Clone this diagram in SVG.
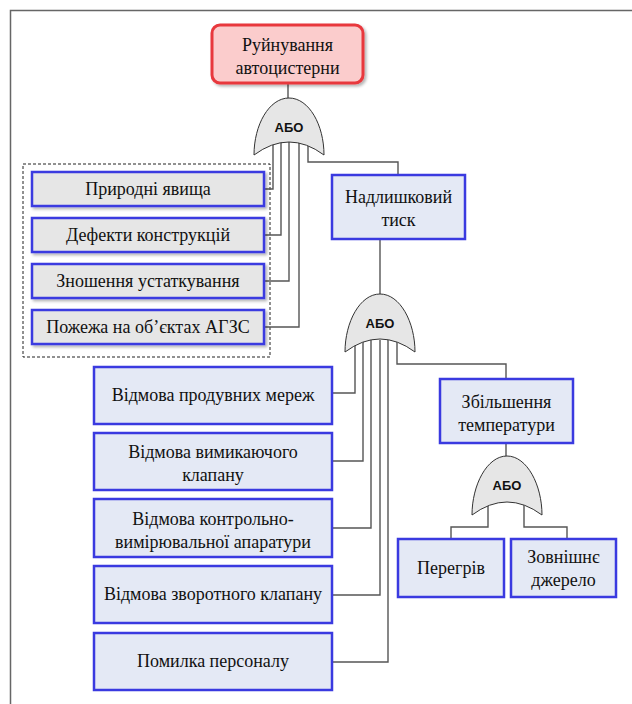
<svg xmlns="http://www.w3.org/2000/svg" width="632" height="704" viewBox="0 0 632 704">
<defs>
<filter id="sh" x="-10%" y="-10%" width="130%" height="140%">
<feGaussianBlur in="SourceAlpha" stdDeviation="1.5"/>
<feOffset dx="2" dy="2" result="b"/>
<feComponentTransfer><feFuncA type="linear" slope="0.3"/></feComponentTransfer>
<feMerge><feMergeNode/><feMergeNode in="SourceGraphic"/></feMerge>
</filter>
</defs>
<style>
text.t{font-family:"Times New Roman","Liberation Serif",Tinos,"DejaVu Serif",serif;font-size:18px;fill:#111;text-anchor:middle}
text.g{font-family:"Liberation Sans",Arial,sans-serif;font-size:13px;font-weight:bold;fill:#111;text-anchor:middle}
.bb{fill:#e4e9f5;stroke:#3a3ae0;stroke-width:2.5}
.gb{fill:#e6e6e6;stroke:#3a3ae0;stroke-width:2.5}
.gate{fill:#e6e6e6;stroke:#333;stroke-width:1}
.c{fill:none;stroke:#555;stroke-width:1.4}
</style>
<rect width="632" height="704" fill="#fff"/>
<path d="M10.5,704 V10.5 H632" fill="none" stroke="#666" stroke-width="1.5"/>
<rect x="23" y="164" width="247" height="193" fill="none" stroke="#222" stroke-width="1" stroke-dasharray="3,2"/>

<g id="connectors">
<path class="c" d="M288,83 V100"/>
<path class="c" d="M264,189 H273 V140"/>
<path class="c" d="M264,235 H281 V140"/>
<path class="c" d="M264,281 H289 V140"/>
<path class="c" d="M264,327 H299 V140"/>
<path class="c" d="M308,140 V162 H398 V175"/>
<path class="c" d="M380,239 V296"/>
<path class="c" d="M332,393 H355 V340"/>
<path class="c" d="M332,461 H363 V340"/>
<path class="c" d="M332,528 H371 V340"/>
<path class="c" d="M332,595 H380 V340"/>
<path class="c" d="M332,662 H388 V340"/>
<path class="c" d="M397,340 V364 H506 V379"/>
<path class="c" d="M506,443 V458"/>
<path class="c" d="M488,500 V527 H451 V539"/>
<path class="c" d="M524,500 V527 H567 V539"/>
</g>

<g id="top">
<rect x="212" y="25" width="151" height="58" rx="8" fill="#fbcccc" stroke="#e8383d" stroke-width="3" filter="url(#sh)"/>
<text class="t" x="287.5" y="51">Руйнування</text>
<text class="t" x="287.5" y="74">автоцистерни</text>
</g>

<g id="gate1">
<path class="gate" d="M254,155 C254,125 269,98 289,98 C309,98 324,125 324,155 Q289,129 254,155 Z"/>
<text class="g" x="289" y="132">АБО</text>
</g>

<g id="n-pryrodni">
<rect class="gb" x="32" y="172" width="232" height="34" filter="url(#sh)"/>
<text class="t" x="148" y="195">Природні явища</text>
</g>
<g id="n-defekty">
<rect class="gb" x="32" y="218" width="232" height="34" filter="url(#sh)"/>
<text class="t" x="148" y="241">Дефекти конструкцій</text>
</g>
<g id="n-znoshennia">
<rect class="gb" x="32" y="264" width="232" height="34" filter="url(#sh)"/>
<text class="t" x="148" y="287">Зношення устаткування</text>
</g>
<g id="n-pozhezha">
<rect class="gb" x="32" y="310" width="232" height="34" filter="url(#sh)"/>
<text class="t" x="148" y="333">Пожежа на об’єктах АГЗС</text>
</g>

<g id="n-nadlyshkovyi">
<rect class="bb" x="332" y="175" width="133" height="64"/>
<text class="t" x="398.5" y="203">Надлишковий</text>
<text class="t" x="398.5" y="226">тиск</text>
</g>

<g id="gate2">
<path class="gate" d="M345,352 C345,322 360,294 380,294 C400,294 415,322 415,352 Q380,326 345,352 Z"/>
<text class="g" x="380" y="328">АБО</text>
</g>

<g id="n-produvnykh">
<rect class="bb" x="94" y="367" width="238" height="57"/>
<text class="t" x="213" y="401">Відмова продувних мереж</text>
</g>
<g id="n-vymykaiuchoho">
<rect class="bb" x="94" y="433" width="238" height="57"/>
<text class="t" x="213" y="458">Відмова вимикаючого</text>
<text class="t" x="213" y="481">клапану</text>
</g>
<g id="n-kvp">
<rect class="bb" x="94" y="499" width="238" height="58"/>
<text class="t" x="213" y="525">Відмова контрольно-</text>
<text class="t" x="213" y="548">вимірювальної апаратури</text>
</g>
<g id="n-zvorotnoho">
<rect class="bb" x="94" y="566" width="238" height="57"/>
<text class="t" x="213" y="600">Відмова зворотного клапану</text>
</g>
<g id="n-pomylka">
<rect class="bb" x="94" y="633" width="238" height="57"/>
<text class="t" x="213" y="667">Помилка персоналу</text>
</g>

<g id="n-temperatura">
<rect class="bb" x="440" y="379" width="133" height="64"/>
<text class="t" x="506.5" y="408">Збільшення</text>
<text class="t" x="506.5" y="431">температури</text>
</g>

<g id="gate3">
<path class="gate" d="M472,515 C472,485 487,456 507,456 C527,456 542,485 542,515 Q507,489 472,515 Z"/>
<text class="g" x="507" y="490">АБО</text>
</g>

<g id="n-perehriv">
<rect class="bb" x="398" y="539" width="106" height="58"/>
<text class="t" x="451" y="574">Перегрів</text>
</g>
<g id="n-zovnishnie">
<rect class="bb" x="511" y="539" width="105" height="58"/>
<text class="t" x="563.5" y="563">Зовнішнє</text>
<text class="t" x="563.5" y="586">джерело</text>
</g>
</svg>
